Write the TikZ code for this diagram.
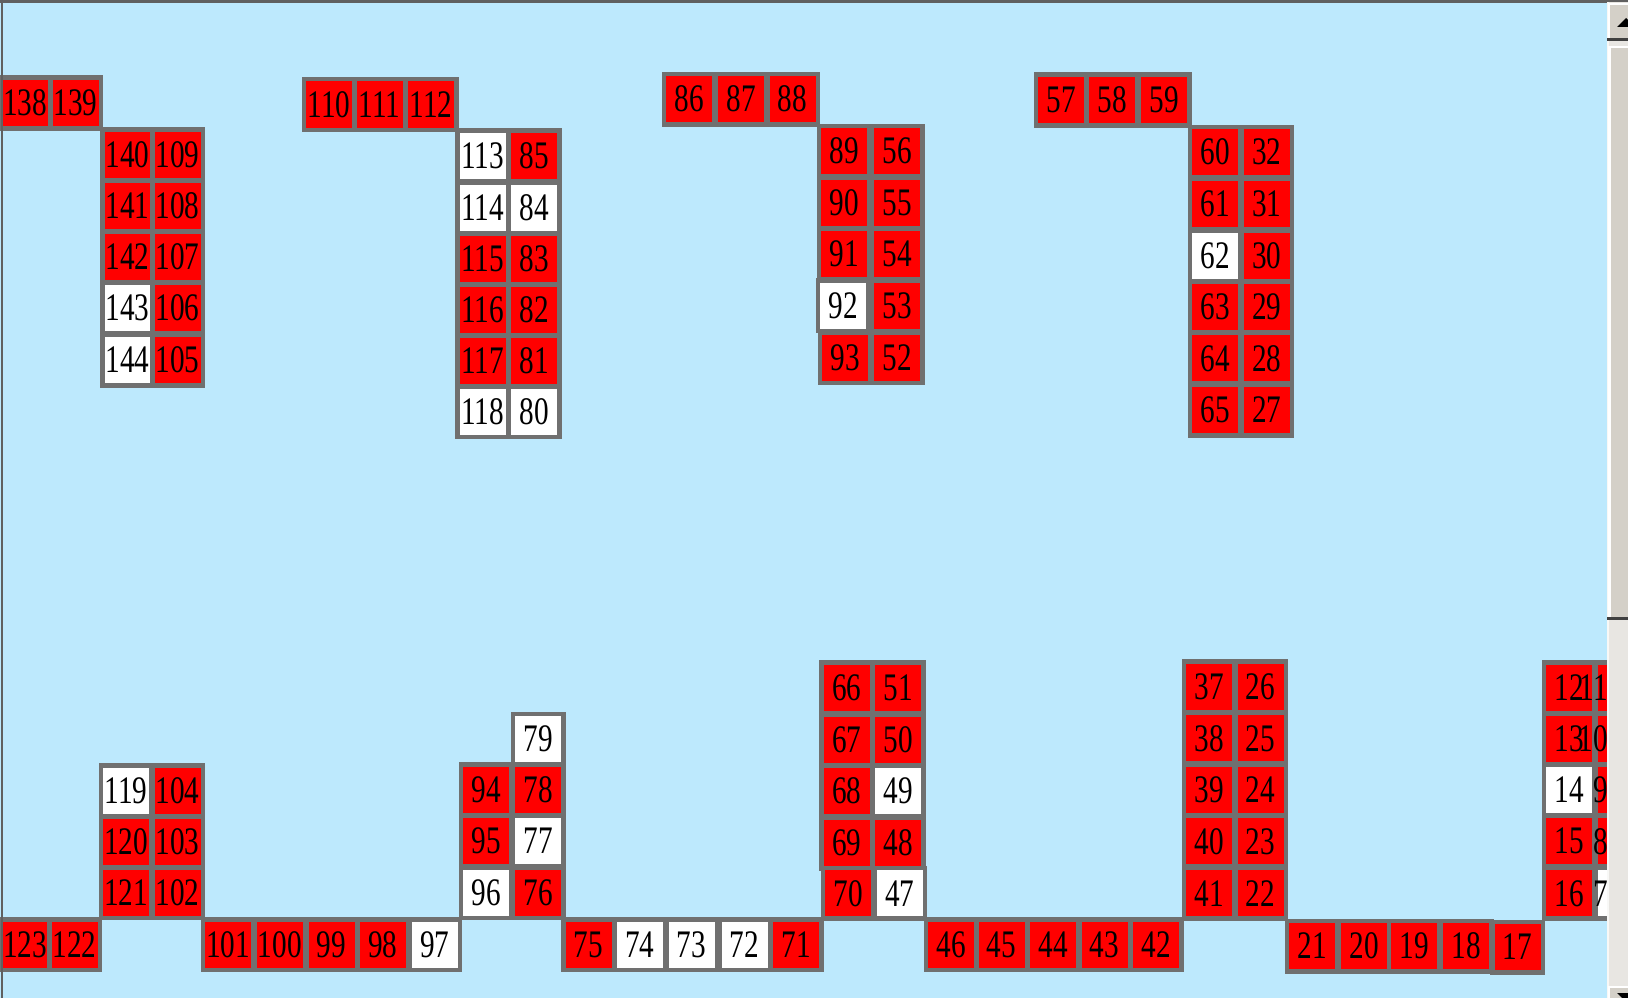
\documentclass[tikz,border=0pt]{standalone}
\usepackage{fontspec}
\newfontfamily\cellfont[FakeStretch=0.75]{Liberation Serif}
\definecolor{bg}{RGB}{189,233,253}
\definecolor{R}{RGB}{255,0,0}
\definecolor{W}{RGB}{255,255,255}
\definecolor{bordergray}{RGB}{112,112,112}
\definecolor{framegray}{RGB}{96,96,96}
\definecolor{sbface}{RGB}{212,208,200}
\definecolor{sbtrack}{RGB}{232,230,226}
\definecolor{sbdark}{RGB}{64,64,64}
\tikzset{
  cell/.style={rectangle, minimum width=46pt, minimum height=46pt, inner sep=0pt,
    preaction={draw=bordergray, line width=9pt},
    font=\cellfont\fontsize{39}{40}\selectfont, text=black},
  celltext/.style={inner sep=0pt, font=\cellfont\fontsize{39}{40}\selectfont, text=black},
}
\begin{document}
\begin{tikzpicture}[x=1pt, y=-1pt]
\useasboundingbox (0,0) rectangle (1628,998);
\fill[bg] (0,0) rectangle (1628,998);
% top area
\foreach \n/\x/\y/\f in {
  138/25/103/R, 139/75.5/103/R,
  140/127.5/154.5/R, 109/177.5/154.5/R,
  141/127.5/205.5/R, 108/177.5/205.5/R,
  142/127.5/257/R,   107/177.5/257/R,
  143/127.5/308/W,   106/177.5/308/R,
  144/127.5/360/W,   105/177.5/360/R,
  110/329/104.5/R, 111/379.5/104.5/R, 112/431/104.5/R,
  113/482.5/155.8/W, 85/534/155.8/R,
  114/482.5/207.5/W, 84/534/207.5/W,
  115/482.5/259/R,   83/534/259/R,
  116/482.5/309.5/R, 82/534/309.5/R,
  117/482.5/361/R,   81/534/361/R,
  118/482.5/411.5/W, 80/534/411.5/W,
  86/689/99.2/R, 87/741/99.2/R, 88/792.5/99.2/R,
  89/844/151/R,    56/897/151/R,
  90/844/202.7/R,  55/897/202.7/R,
  91/844/254.2/R,  54/897/254.2/R,
  92/843/305.8/W,  53/897/305.8/R,
  93/845/357.5/R,  52/897/357.5/R,
  57/1061/100/R, 58/1112/100/R, 59/1164/100/R,
  60/1215.3/152.2/R, 32/1266.7/152.2/R,
  61/1215.3/204.2/R, 31/1266.7/204.2/R,
  62/1215.3/255.5/W, 30/1266.7/255.5/R,
  63/1215.3/306.7/R, 29/1266.7/306.7/R,
  64/1215.3/358.3/R, 28/1266.7/358.3/R,
  65/1215.3/410/R,   27/1266.7/410/R}
  \node[cell, fill=\f] (c\n) at (\x,\y) {\n};
% bottom area
\foreach \n/\x/\y/\f in {
  119/126/790.7/W, 104/177.5/790.7/R,
  120/126/841.7/R, 103/177.5/841.7/R,
  121/126/892.8/R, 102/177.5/892.8/R,
  123/25/944.7/R, 122/74.5/944.7/R,
  101/228.2/944.7/R, 100/279.7/944.7/R, 99/331.5/944.7/R, 98/382.8/944.7/R, 97/434.8/944.7/W,
  79/538.3/739.2/W,
  94/486.3/789.7/R, 78/538.3/789.7/R,
  95/486.3/841.2/R, 77/538.3/841.2/W,
  96/486.3/892.8/W, 76/538.3/892.8/R,
  75/588.5/944.5/R, 74/639.7/944.5/W, 73/691.5/944.5/W, 72/744.5/944.5/W, 71/796.2/944.5/R,
  66/846.7/687.8/R, 51/898.3/687.8/R,
  67/846.7/739.7/R, 50/898.3/739.7/R,
  68/846.7/791.2/R, 49/898.3/791.2/W,
  69/846.7/843/R,   48/898.3/843/R,
  70/848.3/893.3/R, 47/899.7/893.3/W,
  46/951.2/944.5/R, 45/1001.5/944.5/R, 44/1053/944.5/R, 43/1104.5/944.5/R, 42/1156.2/944.5/R,
  37/1209.2/686.5/R, 26/1260.5/686.5/R,
  38/1209.2/738.3/R, 25/1260.5/738.3/R,
  39/1209.2/790/R,   24/1260.5/790/R,
  40/1209.2/841.3/R, 23/1260.5/841.3/R,
  41/1209.2/893.3/R, 22/1260.5/893.3/R,
  21/1312.2/946/R, 20/1364.2/946/R, 19/1414.2/946/R, 18/1466.2/946/R, 17/1517.5/947/R,
  12/1569.2/687.8/R, 13/1569.2/739.2/R, 14/1569.2/789.7/W, 15/1569.2/841.3/R, 16/1569.2/893.3/R}
  \node[cell, fill=\f] (c\n) at (\x,\y) {\n};
% partly hidden column at the right edge
\foreach \n/\y/\f in {11/687.8/R, 10/739.2/R, 9/789.7/R, 8/841.3/R, 7/893.3/W}{
  \node[cell, fill=\f] (c\n) at (1621.3,\y) {};
  \node[celltext, anchor=east] (t\n) at (1608,\y) {\n};
}
% frame
\fill[framegray] (1,0) rectangle (3,998);
\fill[framegray] (0,0) rectangle (1628,2.7);
% scrollbar
\begin{scope}
  \clip (1607,2.7) rectangle (1628,998);
  \fill[sbtrack] (1607,0) rectangle (1628,998);
  \fill[white!70!sbtrack] (1607,0) rectangle (1608.5,998);
  % up button
  \fill[sbface] (1608,3) rectangle (1630,38.5);
  \fill[white] (1608,3) rectangle (1610,38.5);
  \fill[white] (1608,3) rectangle (1630,5);
  \fill[sbdark] (1607,38.5) rectangle (1630,41.5);
  \fill[black] (1617,27) -- (1626,18) -- (1635,27) -- cycle;
  % thumb
  \fill[sbface] (1608,46) rectangle (1630,617);
  \fill[white] (1608,46) rectangle (1610.5,617);
  \fill[white] (1608,46) rectangle (1630,48);
  \fill[sbdark] (1607,616.5) rectangle (1630,620);
  % down button
  \fill[sbface] (1608,986) rectangle (1630,1000);
  \fill[white] (1608,986) rectangle (1630,988);
  \fill[white] (1608,986) rectangle (1610,1000);
  \fill[black] (1617,993) -- (1635,993) -- (1626,1002) -- cycle;
\end{scope}
\end{tikzpicture}
\end{document}
